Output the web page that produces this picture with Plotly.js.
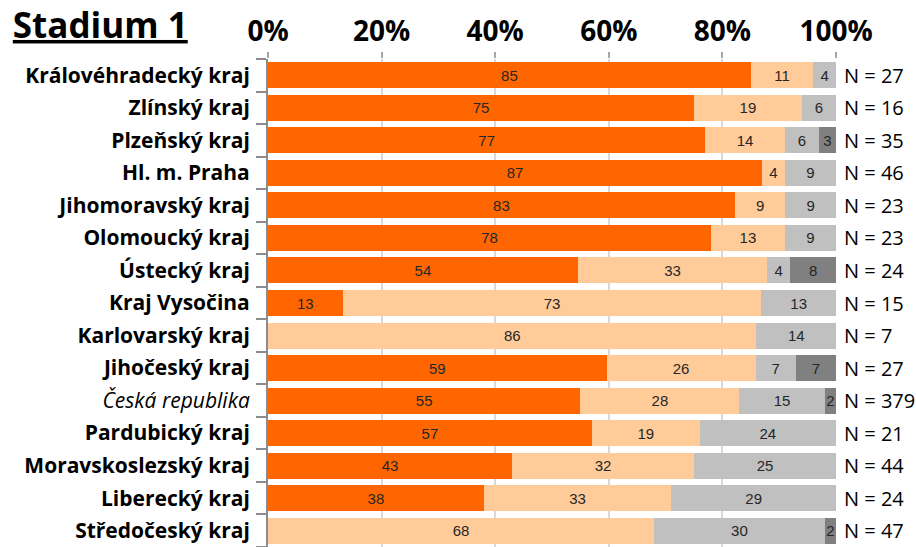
<!DOCTYPE html>
<html>
<head>
<meta charset="utf-8">
<script src="https://cdn.plot.ly/plotly-3.0.1.min.js"></script>
<style>
  html, body { margin: 0; padding: 0; background: #fff; }
  #graph { width: 916px; height: 547px; }
</style>
</head>
<body>
<div id="graph"></div>
<script>
// Regions, top to bottom as in the chart
var regions = [
    'Královéhradecký kraj', 'Zlínský kraj', 'Plzeňský kraj', 'Hl. m. Praha',
    'Jihomoravský kraj', 'Olomoucký kraj', 'Ústecký kraj', 'Kraj Vysočina',
    'Karlovarský kraj', 'Jihočeský kraj', 'Česká republika', 'Pardubický kraj',
    'Moravskoslezský kraj', 'Liberecký kraj', 'Středočeský kraj'
];
var nCounts = [27, 16, 35, 46, 23, 23, 24, 15, 7, 27, 379, 21, 44, 24, 47];

// Shares (%) for the four answer groups
var seg1 = [85, 75, 77, 87, 83, 78, 54, 13, 0, 59, 55, 57, 43, 38, 0];
var seg2 = [11, 19, 14, 4, 9, 13, 33, 73, 86, 26, 28, 19, 32, 33, 68];
var seg3 = [4, 6, 6, 9, 9, 9, 4, 13, 14, 7, 15, 24, 25, 29, 30];
var seg4 = [0, 0, 3, 0, 0, 0, 8, 0, 0, 7, 2, 0, 0, 0, 2];

var colors = ['#ff6600', '#ffcc99', '#c0c0c0', '#808080'];

var tickLabels = regions.map(function(r) {
    return r === 'Česká republika' ? '<i>' + r + '</i>' : '<b>' + r + '</b>';
});

function makeTrace(vals, color) {
    return {
        type: 'bar',
        orientation: 'h',
        y: regions,
        x: vals,
        text: vals.map(function(v) { return v ? String(v) : ''; }),
        texttemplate: '%{text}',
        textposition: 'inside',
        insidetextanchor: 'middle',
        constraintext: 'none',
        textangle: 0,
        insidetextfont: { family: 'Liberation Sans, Arial, sans-serif', size: 15, color: '#262626' },
        marker: { color: color, line: { width: 0 } },
        hoverinfo: 'skip'
    };
}

var data = [
    makeTrace(seg1, colors[0]),
    makeTrace(seg2, colors[1]),
    makeTrace(seg3, colors[2]),
    makeTrace(seg4, colors[3])
];

// N = ... labels right of the bars
var annotations = regions.map(function(r, i) {
    return {
        xref: 'paper', yref: 'y',
        x: 1, y: r,
        xanchor: 'left', yanchor: 'middle',
        xshift: 6,
        text: 'N = ' + nCounts[i],
        showarrow: false,
        font: { family: 'Open Sans, sans-serif', size: 20, color: '#000' }
    };
});

var layout = {
    width: 916,
    height: 547,
    margin: { l: 268, r: 80, t: 59, b: 0 },
    paper_bgcolor: '#fff',
    plot_bgcolor: '#fff',
    barmode: 'stack',
    barnorm: 'percent',
    bargap: 0.2,
    showlegend: false,
    hovermode: false,
    title: {
        text: '<b><u>Stadium 1</u></b>',
        font: { family: 'Open Sans, sans-serif', size: 35, color: '#000' },
        xref: 'container', yref: 'container',
        x: 0.014, xanchor: 'left',
        y: 0.953, yanchor: 'middle'
    },
    xaxis: {
        side: 'top',
        range: [0, 100],
        autorange: false,
        tickvals: [0, 20, 40, 60, 80, 100],
        ticktext: ['0%', '20%', '40%', '60%', '80%', '100%'],
        ticks: 'outside',
        ticklen: 6,
        tickwidth: 2,
        tickcolor: '#a6a6a6',
        showgrid: true,
        gridcolor: '#d9d9d9',
        gridwidth: 2,
        showline: false,
        zeroline: false,
        tickfont: { family: 'Open Sans, sans-serif', size: 28, color: '#000', weight: 'bold' },
        ticklabelstandoff: 0
    },
    yaxis: {
        autorange: 'reversed',
        tickvals: regions,
        ticktext: tickLabels,
        tickson: 'boundaries',
        ticks: 'outside',
        ticklen: 10,
        tickwidth: 2,
        tickcolor: '#8c8c8c',
        showline: true,
        linecolor: '#8c8c8c',
        linewidth: 2,
        showgrid: false,
        ticklabelstandoff: 12,
        tickfont: { family: 'Open Sans, sans-serif', size: 21, color: '#000' }
    },
    annotations: annotations
};

Plotly.newPlot('graph', data, layout, { staticPlot: true, displayModeBar: false });
</script>
</body>
</html>
